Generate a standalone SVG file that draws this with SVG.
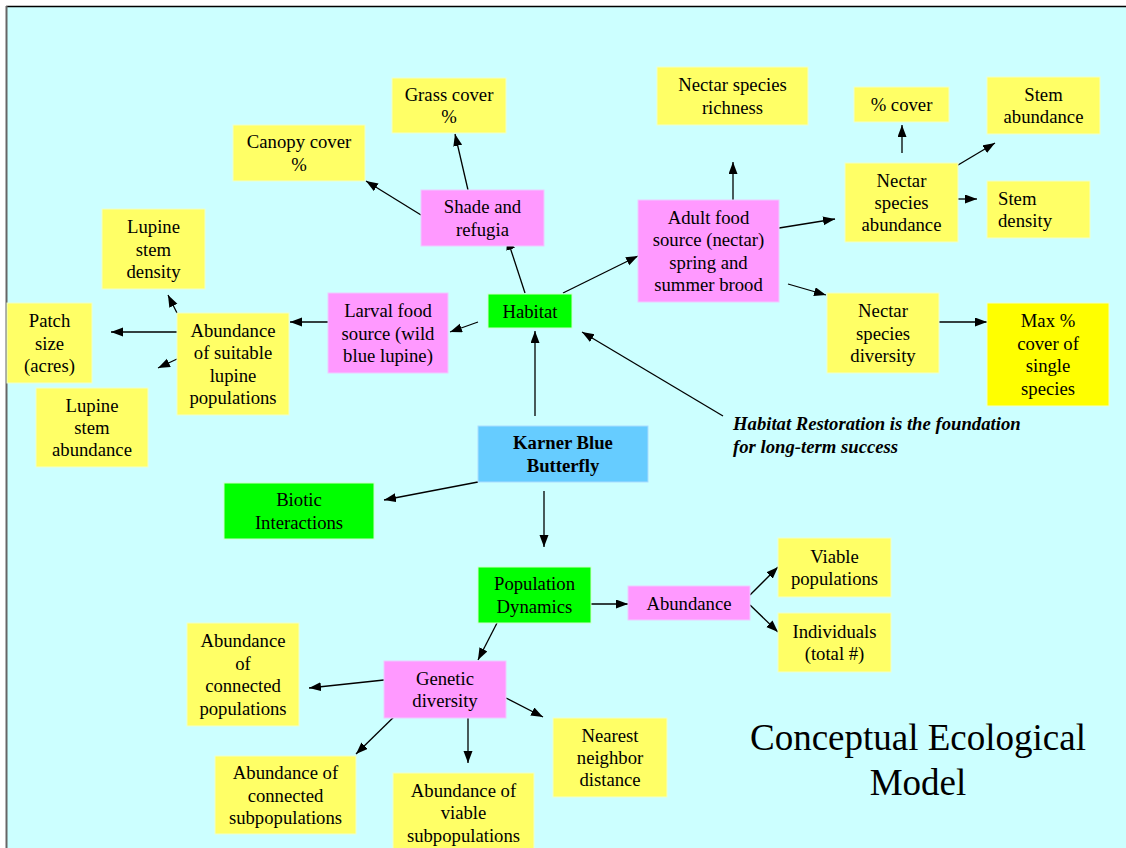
<svg xmlns="http://www.w3.org/2000/svg" width="1126" height="848" viewBox="0 0 1126 848">
<style>
.y{fill:#FFFF66;stroke:#EEFFCC;stroke-width:1}
.yy{fill:#FFFF00;stroke:#EEFFCC;stroke-width:1}
.p{fill:#FF99FF;stroke:#EECCFF;stroke-width:1}
.g{fill:#00FF00;stroke:#CCFFCC;stroke-width:1}
.b{fill:#66CCFF;stroke:#AADDFF;stroke-width:1}
.t{font-family:"Liberation Serif","Times New Roman",serif;font-size:18.7px;text-anchor:middle;fill:#000}
.bold{font-weight:bold}
.note{font-family:"Liberation Serif","Times New Roman",serif;font-size:18.7px;font-weight:bold;font-style:italic;fill:#000}
.title{font-family:"Liberation Serif","Times New Roman",serif;font-size:37px;text-anchor:middle;fill:#000}
#connectors line{stroke:#000;stroke-width:1.3;marker-end:url(#ah)}
</style>
<defs>
<marker id="ah" markerUnits="userSpaceOnUse" markerWidth="13" markerHeight="10" refX="12" refY="4.5" orient="auto">
<path d="M0,0 L12,4.5 L0,9 z" fill="#000"/>
</marker>
</defs>
<rect x="0" y="0" width="1126" height="848" fill="#FFFFFF"/>
<rect x="7" y="7" width="1119" height="841" fill="#CCFFFF"/>
<line x1="6" y1="6.5" x2="1126" y2="6.5" stroke="#000" stroke-width="1.5"/>
<line x1="6.5" y1="6" x2="6.5" y2="848" stroke="#666" stroke-width="2"/>

<g id="connectors">
<line x1="421" y1="215" x2="366" y2="181"/>
<line x1="468" y1="190" x2="455" y2="134"/>
<line x1="525" y1="293" x2="507" y2="238"/>
<line x1="563" y1="293" x2="638" y2="256"/>
<line x1="478" y1="322" x2="450" y2="332"/>
<line x1="535" y1="416" x2="535" y2="331"/>
<line x1="723" y1="416" x2="582" y2="332"/>
<line x1="478" y1="482" x2="384" y2="500"/>
<line x1="544" y1="491" x2="544" y2="547"/>
<line x1="591" y1="604" x2="628" y2="604"/>
<line x1="750" y1="595" x2="778" y2="567"/>
<line x1="750" y1="605" x2="778" y2="632"/>
<line x1="497" y1="623" x2="478" y2="660"/>
<line x1="384" y1="680" x2="309" y2="688"/>
<line x1="403" y1="708" x2="356" y2="754"/>
<line x1="468" y1="708" x2="468" y2="763"/>
<line x1="506" y1="698" x2="543" y2="717"/>
<line x1="328" y1="322" x2="290" y2="322"/>
<line x1="177" y1="332" x2="111" y2="332"/>
<line x1="177" y1="313" x2="168" y2="295"/>
<line x1="177" y1="359" x2="158" y2="368"/>
<line x1="733" y1="200" x2="733" y2="162"/>
<line x1="779" y1="228" x2="835" y2="219"/>
<line x1="788" y1="284" x2="826" y2="295"/>
<line x1="902" y1="153" x2="902" y2="125"/>
<line x1="948" y1="171" x2="995" y2="143"/>
<line x1="948" y1="199" x2="977" y2="199"/>
<line x1="939" y1="322" x2="987" y2="322"/>
</g>

<g id="grass"><rect class="y" x="392" y="78" width="114" height="55"/><text class="t" x="449"><tspan x="449" y="101">Grass cover</tspan><tspan x="449" y="123.4">%</tspan></text></g>
<g id="canopy"><rect class="y" x="233" y="125" width="132" height="56"/><text class="t"><tspan x="299" y="148.3">Canopy cover</tspan><tspan x="299" y="170.7">%</tspan></text></g>
<g id="shade"><rect class="p" x="421" y="190" width="123" height="56"/><text class="t"><tspan x="482.5" y="213.3">Shade and</tspan><tspan x="482.5" y="235.7">refugia</tspan></text></g>
<g id="habitat"><rect class="g" x="488" y="294" width="84" height="34"/><text class="t" x="530" y="317.5">Habitat</text></g>
<g id="adult"><rect class="p" x="638" y="200" width="141" height="102"/><text class="t"><tspan x="708.5" y="223.9">Adult food</tspan><tspan x="708.5" y="246.3">source (nectar)</tspan><tspan x="708.5" y="268.7">spring and</tspan><tspan x="708.5" y="291.1">summer brood</tspan></text></g>
<g id="richness"><rect class="y" x="657" y="67" width="151" height="58"/><text class="t"><tspan x="732.5" y="91.3">Nectar species</tspan><tspan x="732.5" y="113.7">richness</tspan></text></g>
<g id="pcover"><rect class="y" x="854" y="87" width="95" height="35"/><text class="t" x="901.5" y="111">% cover</text></g>
<g id="stemab"><rect class="y" x="987" y="77" width="113" height="57"/><text class="t"><tspan x="1043.5" y="100.8">Stem</tspan><tspan x="1043.5" y="123.2">abundance</tspan></text></g>
<g id="nab"><rect class="y" x="845" y="163" width="113" height="79"/><text class="t"><tspan x="901.5" y="186.6">Nectar</tspan><tspan x="901.5" y="209">species</tspan><tspan x="901.5" y="231.4">abundance</tspan></text></g>
<g id="stemden"><rect class="y" x="987" y="181" width="103" height="57"/><text class="t" style="text-anchor:start"><tspan x="998" y="204.8">Stem</tspan><tspan x="998" y="227.2">density</tspan></text></g>
<g id="ndiv"><rect class="y" x="827" y="293" width="112" height="80"/><text class="t"><tspan x="883" y="317.1">Nectar</tspan><tspan x="883" y="339.5">species</tspan><tspan x="883" y="361.9">diversity</tspan></text></g>
<g id="maxcover"><rect class="yy" x="987" y="303" width="122" height="103"/><text class="t"><tspan x="1048" y="327.4">Max %</tspan><tspan x="1048" y="349.8">cover of</tspan><tspan x="1048" y="372.2">single</tspan><tspan x="1048" y="394.6">species</tspan></text></g>
<g id="lsd"><rect class="y" x="102" y="209" width="103" height="80"/><text class="t"><tspan x="153.5" y="233.1">Lupine</tspan><tspan x="153.5" y="255.5">stem</tspan><tspan x="153.5" y="277.9">density</tspan></text></g>
<g id="patch"><rect class="y" x="7" y="303" width="85" height="80"/><text class="t"><tspan x="49.5" y="327.1">Patch</tspan><tspan x="49.5" y="349.5">size</tspan><tspan x="49.5" y="371.9">(acres)</tspan></text></g>
<g id="lsa"><rect class="y" x="36" y="388" width="112" height="79"/><text class="t"><tspan x="92" y="411.6">Lupine</tspan><tspan x="92" y="434">stem</tspan><tspan x="92" y="456.4">abundance</tspan></text></g>
<g id="asl"><rect class="y" x="177" y="313" width="112" height="102"/><text class="t"><tspan x="233" y="336.9">Abundance</tspan><tspan x="233" y="359.3">of suitable</tspan><tspan x="233" y="381.7">lupine</tspan><tspan x="233" y="404.1">populations</tspan></text></g>
<g id="larval"><rect class="p" x="328" y="293" width="120" height="80"/><text class="t"><tspan x="388" y="317.1">Larval food</tspan><tspan x="388" y="339.5">source (wild</tspan><tspan x="388" y="361.9">blue lupine)</tspan></text></g>
<g id="karner"><rect class="b" x="478" y="426" width="170" height="56"/><text class="t bold"><tspan x="563" y="449.3">Karner Blue</tspan><tspan x="563" y="471.7">Butterfly</tspan></text></g>
<g id="biotic"><rect class="g" x="224" y="483" width="150" height="56"/><text class="t"><tspan x="299" y="506.3">Biotic</tspan><tspan x="299" y="528.7">Interactions</tspan></text></g>
<g id="popdyn"><rect class="g" x="478" y="567" width="113" height="56"/><text class="t"><tspan x="534.5" y="590.3">Population</tspan><tspan x="534.5" y="612.7">Dynamics</tspan></text></g>
<g id="abundance"><rect class="p" x="628" y="586" width="122" height="34"/><text class="t" x="689" y="609.5">Abundance</text></g>
<g id="viable"><rect class="y" x="778" y="538" width="113" height="59"/><text class="t"><tspan x="834.5" y="562.8">Viable</tspan><tspan x="834.5" y="585.2">populations</tspan></text></g>
<g id="indiv"><rect class="y" x="778" y="613" width="113" height="59"/><text class="t"><tspan x="834.5" y="637.8">Individuals</tspan><tspan x="834.5" y="660.2">(total #)</tspan></text></g>
<g id="genetic"><rect class="p" x="384" y="661" width="122" height="57"/><text class="t"><tspan x="445" y="684.8">Genetic</tspan><tspan x="445" y="707.2">diversity</tspan></text></g>
<g id="acp"><rect class="y" x="187" y="623" width="112" height="103"/><text class="t"><tspan x="243" y="647.4">Abundance</tspan><tspan x="243" y="669.8">of</tspan><tspan x="243" y="692.2">connected</tspan><tspan x="243" y="714.6">populations</tspan></text></g>
<g id="acs"><rect class="y" x="215" y="756" width="141" height="78"/><text class="t"><tspan x="285.5" y="779.1">Abundance of</tspan><tspan x="285.5" y="801.5">connected</tspan><tspan x="285.5" y="823.9">subpopulations</tspan></text></g>
<g id="avs"><rect class="y" x="393" y="773" width="141" height="80"/><text class="t"><tspan x="463.5" y="797">Abundance of</tspan><tspan x="463.5" y="819.4">viable</tspan><tspan x="463.5" y="841.8">subpopulations</tspan></text></g>
<g id="nearest"><rect class="y" x="553" y="718" width="114" height="79"/><text class="t"><tspan x="610" y="741.6">Nearest</tspan><tspan x="610" y="764">neighbor</tspan><tspan x="610" y="786.4">distance</tspan></text></g>

<text class="note"><tspan x="733" y="430">Habitat Restoration is the foundation</tspan><tspan x="733" y="453">for long-term success</tspan></text>
<text class="title"><tspan x="918" y="750">Conceptual Ecological</tspan><tspan x="918" y="795">Model</tspan></text>
</svg>
